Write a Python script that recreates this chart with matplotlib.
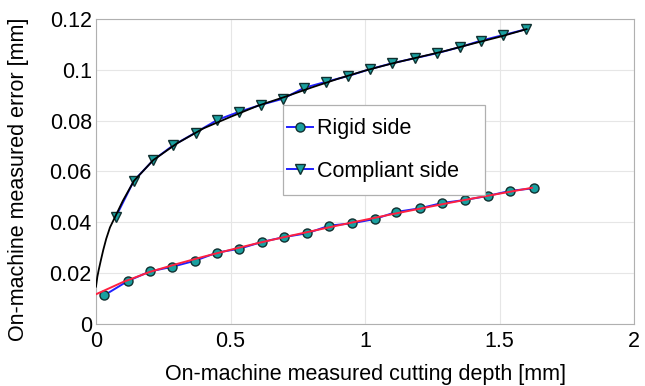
import numpy as np
import matplotlib
matplotlib.use("Agg")
from matplotlib import pyplot as plt
from matplotlib.patches import Rectangle

plt.rcParams['font.family'] = ['Liberation Sans', 'DejaVu Sans']

# measured points
rigid_x = [0.031, 0.118, 0.201, 0.283, 0.368, 0.450, 0.532, 0.617, 0.699, 0.784,
           0.867, 0.950, 1.036, 1.116, 1.202, 1.286, 1.371, 1.456, 1.539, 1.627]
rigid_y = [0.0113, 0.0169, 0.0207, 0.0225, 0.0249, 0.0281, 0.0296, 0.0323, 0.0342, 0.0357,
           0.0387, 0.0396, 0.0413, 0.0441, 0.0455, 0.0476, 0.0488, 0.0504, 0.0524, 0.0534]

compl_x = [0.074, 0.141, 0.213, 0.287, 0.370, 0.451, 0.532, 0.612, 0.694, 0.773,
           0.855, 0.938, 1.019, 1.101, 1.186, 1.266, 1.351, 1.431, 1.514, 1.599]
compl_y = [0.0422, 0.0564, 0.0645, 0.0703, 0.0753, 0.0803, 0.0835, 0.0862, 0.0886, 0.0929,
           0.0953, 0.0976, 0.1003, 0.1026, 0.1046, 0.1065, 0.1089, 0.1115, 0.1137, 0.1160]

# fitted curves
fit_r_x = [0.0, 0.1, 0.2, 0.3, 0.4, 0.5, 0.6, 0.7, 0.8, 0.9, 1.0, 1.1, 1.2, 1.3, 1.4, 1.5, 1.62]
fit_r_y = [0.0117, 0.0165, 0.0205, 0.0236, 0.0265, 0.0292, 0.0318, 0.0342, 0.0365, 0.0388,
           0.0410, 0.0432, 0.0453, 0.0474, 0.0494, 0.0513, 0.0536]

fit_c_x = [0.0, 0.005, 0.01, 0.018, 0.027, 0.038, 0.052, 0.074, 0.1, 0.141, 0.213, 0.3, 0.4,
           0.5, 0.6, 0.7, 0.8, 0.9, 1.0, 1.1, 1.2, 1.3, 1.4, 1.5, 1.6]
fit_c_y = [0.0147, 0.0185, 0.0212, 0.0250, 0.0291, 0.0335, 0.0380, 0.0428, 0.0485, 0.0563,
           0.0645, 0.0710, 0.0770, 0.0815, 0.0858, 0.0893, 0.0930, 0.0965, 0.0997, 0.1025,
           0.1050, 0.1075, 0.1103, 0.1130, 0.1160]

teal = '#1aa0a0'
fs = 15.5

fig = plt.figure(figsize=(6.45, 3.86), dpi=100)
ax = fig.add_axes([0.1488, 0.1606, 0.8346, 0.7902])

ax.plot(rigid_x, rigid_y, '-o', color='#2020ff', lw=1.4, ms=6.5,
        mfc=teal, mec='#103030', mew=1.0, label='Rigid side', zorder=2)
ax.plot(compl_x, compl_y, '-v', color='#2020ff', lw=1.4, ms=6.5,
        mfc=teal, mec='#103030', mew=1.0, label='Compliant side', zorder=2)
ax.plot(fit_r_x, fit_r_y, '-', color='#ff2040', lw=1.4, zorder=3)
ax.plot(fit_c_x, fit_c_y, '-', color='black', lw=1.3, zorder=3)

ax.set_xlim(0, 2)
ax.set_ylim(0, 0.12)
ax.set_xticks([0, 0.5, 1, 1.5, 2])
ax.set_xticklabels(['0', '0.5', '1', '1.5', '2'])
ax.set_yticks([0, 0.02, 0.04, 0.06, 0.08, 0.1, 0.12])
ax.set_yticklabels(['0', '0.02', '0.04', '0.06', '0.08', '0.1', '0.12'])
ax.tick_params(labelsize=fs, length=0)
ax.tick_params(axis='x', pad=5)
ax.tick_params(axis='y', pad=3)
ax.grid(True, color='#e6e6e6', lw=0.8)
ax.set_axisbelow(True)
for s in ax.spines.values():
    s.set_color('#b0b0b0')

ax.set_xlabel('On-machine measured cutting depth [mm]', fontsize=fs, labelpad=9)
ax.set_ylabel('On-machine measured error [mm]', fontsize=fs)
ax.yaxis.set_label_coords(-0.124, 0.475)

# legend box drawn separately so the entries can sit close to its left edge
ax.add_patch(Rectangle((0.348, 0.423), 0.375, 0.295, transform=ax.transAxes,
                       facecolor='white', edgecolor='#b0b0b0', lw=0.9, zorder=4))
leg = ax.legend(loc='center left', bbox_to_anchor=(0.355, 0.57), frameon=False,
                fontsize=fs, handlelength=1.2, handletextpad=0.2,
                labelspacing=1.0, borderpad=0, borderaxespad=0)
leg.set_zorder(5)

fig.savefig('out.png', dpi=100)
